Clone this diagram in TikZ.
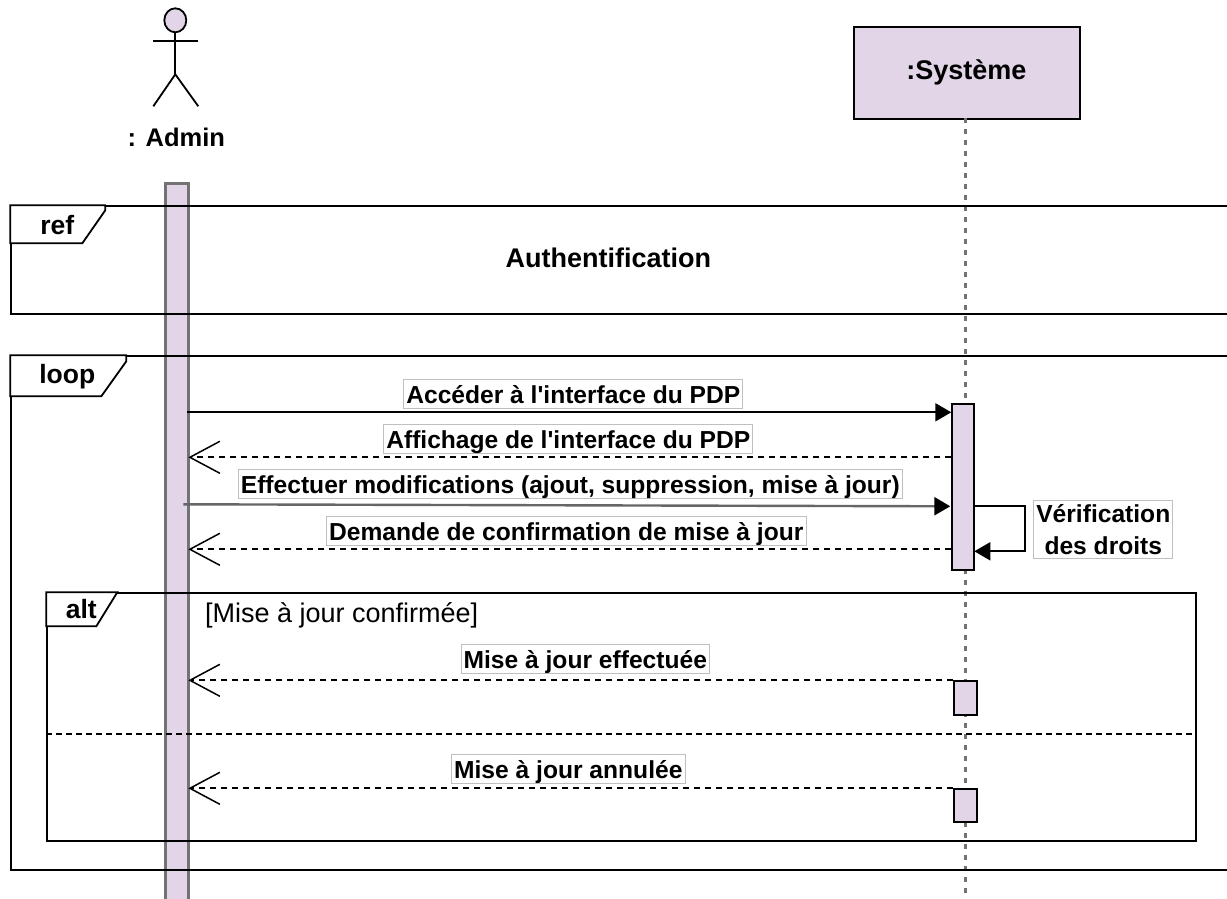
\documentclass[tikz,border=0pt]{standalone}
\usepackage{xcolor}
\usepackage{fontspec}
\setmainfont[Ligatures=TeXOff]{Liberation Sans}
\usetikzlibrary{positioning, shapes, arrows.meta, shapes.geometric}
\definecolor{lilac}{HTML}{E1D5E7}

\begin{document}
\begin{tikzpicture}[
    x=1pt, y=-1pt,
    line width=1.8pt,
    title/.style={font=\fontsize{27}{32}\selectfont\bfseries, inner sep=0pt},
    activation/.style={rectangle, draw, fill=lilac, inner sep=0pt, anchor=north west},
    framebox/.style={rectangle, draw, inner sep=0pt, anchor=north west},
    note/.style={rectangle, draw=black!25, line width=0.8pt, fill=white, inner xsep=2.5pt, inner ysep=4pt, font=\fontsize{24.6}{32}\selectfont\bfseries},
    message/.style={note, inner ysep=1.3pt, text height=22pt, text depth=4.4pt},
    tag/.style={font=\fontsize{26.5}{31}\selectfont\bfseries, inner sep=0pt},
    call/.style={-{Triangle[length=16pt,width=18pt,black]}},
    reply/.style={dashed, dash pattern=on 6pt off 5pt, line width=1.8pt, -{Straight Barb[length=30pt,width=32pt,line width=1.5pt]}}
]
\useasboundingbox (0.7,0.7) rectangle (1227.7,899.7);

% Actor
\node[ellipse, draw, fill=lilac, minimum width=22pt, minimum height=24pt, inner sep=0pt] (head) at (176,21) {};
\coordinate (neck) at (176,75);
\coordinate (armL) at (154,42);
\coordinate (armR) at (199,42);
\coordinate (legL) at (154,107);
\coordinate (legR) at (199,107);
\draw (head) -- (neck);
\draw (armL) -- (armR);
\draw (legL) -- (neck) -- (legR);
\node[title, font=\fontsize{25.5}{30}\selectfont\bfseries] (admin) at (177,138) {: Admin};

% System and lifelines
\node[activation, minimum width=226pt, minimum height=92pt, line width=2pt] (system) at (854,27) {};
\node[title] (systemlabel) at (967,73) {:Système};
\coordinate (systop) at (966,119);
\coordinate (sysend) at (966,899);
\draw[black!55, dashed, dash pattern=on 5pt off 6pt, line width=2.5pt] (systop) -- (sysend);
\node[activation, minimum width=23pt, minimum height=730pt, draw=black!55, line width=3pt] (adminbar) at (165,183) {};
\node[activation, minimum width=22pt, minimum height=166pt] (act1) at (952,404) {};
\node[activation, minimum width=23pt, minimum height=34pt] (act2) at (954,681) {};
\node[activation, minimum width=23pt, minimum height=33pt] (act3) at (954,789) {};

% Frames
\node[framebox, minimum width=1240pt, minimum height=108pt] (refframe) at (11,206) {};
\node[framebox, minimum width=1240pt, minimum height=514pt] (loopframe) at (11,356) {};
\node[framebox, minimum width=1149pt, minimum height=248pt] (altframe) at (47,593) {};
\draw[fill=white] (refframe.north west) -- ++(95,0) -- ++(0,5) -- ++(-23,33) -- ++(-72,0) -- cycle;
\draw[fill=white] (loopframe.north west) -- ++(116,0) -- ++(0,6) -- ++(-25,35) -- ++(-91,0) -- cycle;
\draw[fill=white] (altframe.north west) -- ++(71,0) -- ++(-21,34) -- ++(-50,0) -- cycle;
\node[tag] (reftag) at (58,226) {ref};
\node[tag] (looptag) at (68,377) {loop};
\node[tag] (alttag) at (82,610) {alt};
\node[title] (authlabel) at (609,259) {Authentification};
\node[font=\fontsize{27}{31}\selectfont, inner sep=0pt, anchor=west] (guard) at (205,616) {[Mise à jour confirmée]};

% Alt separator
\draw[dashed, dash pattern=on 6pt off 4pt] (altframe.west |- 0,735) -- (altframe.east |- 0,735);

% Messages
\coordinate (adm1) at (188,413);
\coordinate (sys1) at (952,413);
\coordinate (adm2) at (189,458);
\coordinate (sys2) at (952,458);
\coordinate (adm3) at (184,505);
\coordinate (sys3) at (951,507);
\coordinate (adm4) at (189,550);
\coordinate (sys4) at (952,550);
\coordinate (adm5) at (189,681);
\coordinate (sys5) at (954,681);
\coordinate (adm6) at (189,789);
\coordinate (sys6) at (954,789);
\coordinate (loopa) at (974,507);
\coordinate (loopb) at (1026,507);
\coordinate (loopc) at (1026,552);
\coordinate (loopd) at (975,552);

\draw[call] (adm1) -- (sys1);
\draw[reply] (sys2) -- (adm2);
\draw[call, black!60, line width=2.4pt] (adm3) -- (sys3);
\draw[reply] (sys4) -- (adm4);
\draw[call] (loopa) -- (loopb) -- (loopc) -- (loopd);
\draw[reply] (sys5) -- (adm5);
\draw[reply] (sys6) -- (adm6);

% Message labels
\node[message] (m1) at (574,395) {Accéder à l'interface du PDP};
\node[message] (m2) at (569,440) {Affichage de l'interface du PDP};
\node[message] (m3) at (571,485) {Effectuer modifications (ajout, suppression, mise à jour)};
\node[message] (m4) at (567,532) {Demande de confirmation de mise à jour};
\node[note, align=center] (m5) at (1104,530) {Vérification\\des droits};
\node[message] (m6) at (586,660) {Mise à jour effectuée};
\node[message] (m7) at (569,770) {Mise à jour annulée};

\end{tikzpicture}
\end{document}
